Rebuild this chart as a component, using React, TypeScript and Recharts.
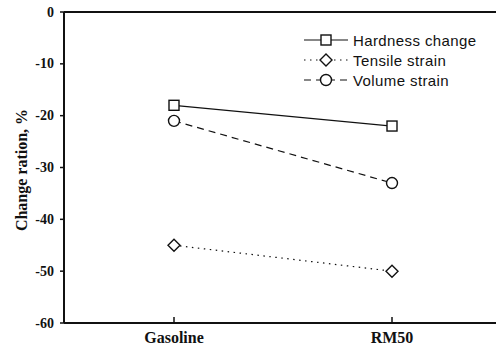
import React from "react";
import {
  LineChart,
  Line,
  XAxis,
  YAxis,
  ReferenceLine,
} from "recharts";

const categories = ["Gasoline", "RM50"];
const hardnessChange = [-18, -22];
const tensileStrain = [-45, -50];
const volumeStrain = [-21, -33];
const yTicks = [0, -10, -20, -30, -40, -50, -60];

const SERIF = '"Liberation Serif", "Times New Roman", serif';
const SANS = '"Liberation Sans", Arial, sans-serif';
const INK = "#111";

type Shape = "square" | "diamond" | "circle";

const series: { key: string; name: string; shape: Shape; dash?: string }[] = [
  { key: "hardness", name: "Hardness change", shape: "square" },
  { key: "tensile", name: "Tensile strain", shape: "diamond", dash: "1.5 4.5" },
  { key: "volume", name: "Volume strain", shape: "circle", dash: "7 5" },
];

const data = categories.map((name, i) => ({
  name,
  hardness: hardnessChange[i],
  tensile: tensileStrain[i],
  volume: volumeStrain[i],
}));

function Marker({ shape, cx, cy }: { shape: Shape; cx: number; cy: number }) {
  const common = { fill: "#fff", stroke: INK, strokeWidth: 1.4 };
  if (shape === "square") {
    return <rect x={cx - 5} y={cy - 5} width={10} height={10} {...common} />;
  }
  if (shape === "diamond") {
    return (
      <polygon
        points={`${cx},${cy - 6} ${cx + 6},${cy} ${cx},${cy + 6} ${cx - 6},${cy}`}
        {...common}
      />
    );
  }
  return <circle cx={cx} cy={cy} r={5.5} {...common} />;
}

function XTick(props: any) {
  const { x, y, payload } = props;
  return (
    <g>
      <line x1={x} y1={y} x2={x} y2={y - 6} stroke={INK} strokeWidth={1.5} />
      <text
        x={x}
        y={y + 20}
        textAnchor="middle"
        fontFamily={SERIF}
        fontWeight="bold"
        fontSize={16}
        fill={INK}
      >
        {payload.value}
      </text>
    </g>
  );
}

function YTick(props: any) {
  const { x, y, payload } = props;
  return (
    <text
      x={x}
      y={y}
      textAnchor="end"
      dominantBaseline="central"
      fontFamily={SERIF}
      fontWeight="bold"
      fontSize={14}
      fill={INK}
    >
      {payload.value}
    </text>
  );
}

function LegendBox() {
  return (
    <div style={{ position: "absolute", left: 302, top: 30 }}>
      {series.map((s) => (
        <div
          key={s.key}
          style={{ display: "flex", alignItems: "center", height: 20 }}
        >
          <svg width={48} height={20}>
            <line
              x1={2}
              y1={10}
              x2={46}
              y2={10}
              stroke={INK}
              strokeWidth={1.1}
              strokeDasharray={s.dash}
            />
            <Marker shape={s.shape} cx={24} cy={10} />
          </svg>
          <span
            style={{
              fontFamily: SANS,
              fontSize: 15,
              letterSpacing: 0.4,
              color: INK,
              marginLeft: 3,
              whiteSpace: "nowrap",
            }}
          >
            {s.name}
          </span>
        </div>
      ))}
    </div>
  );
}

export default function App() {
  return (
    <div
      style={{
        position: "absolute",
        left: 0,
        top: 0,
        width: 496,
        height: 351,
        overflow: "hidden",
        background: "#fff",
      }}
    >
      <LineChart
        width={510}
        height={351}
        data={data}
        margin={{ top: 12, right: 8, bottom: 0, left: 0 }}
      >
        <XAxis
          dataKey="name"
          height={28}
          padding={{ left: 110, right: 110 }}
          axisLine={{ stroke: INK, strokeWidth: 2 }}
          tickLine={false}
          tickSize={0}
          tickMargin={0}
          tick={<XTick />}
        />
        <YAxis
          width={64}
          domain={[-60, 0]}
          ticks={yTicks}
          interval={0}
          axisLine={{ stroke: INK, strokeWidth: 2 }}
          tickLine={{ stroke: INK, strokeWidth: 1.5 }}
          tickSize={4}
          tickMargin={6}
          tick={<YTick />}
          label={{
            content: () => (
              <text
                transform="translate(21,170) rotate(-90)"
                textAnchor="middle"
                dominantBaseline="central"
                fontFamily={SERIF}
                fontWeight="bold"
                fontSize={16}
                fill={INK}
              >
                Change ration, %
              </text>
            ),
          }}
        />
        <ReferenceLine y={0} stroke={INK} strokeWidth={2} />
        {series.map((s) => (
          <Line
            key={s.key}
            dataKey={s.key}
            name={s.name}
            type="linear"
            stroke={INK}
            strokeWidth={1.2}
            strokeDasharray={s.dash}
            isAnimationActive={false}
            dot={(p: any) => (
              <Marker key={`${s.key}-${p.index}`} shape={s.shape} cx={p.cx} cy={p.cy} />
            )}
            activeDot={false}
          />
        ))}
      </LineChart>
      <LegendBox />
    </div>
  );
}
